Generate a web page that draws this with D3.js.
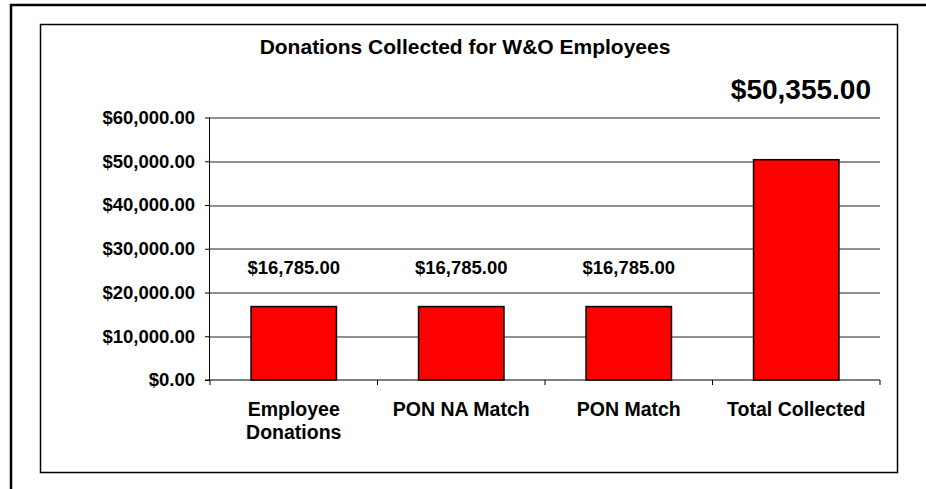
<!DOCTYPE html>
<html><head><meta charset="UTF-8"><style>
body { margin: 0; background: #fff; }
text { font-family: "Liberation Sans", Arial, sans-serif; font-weight: bold; fill: #000; }
</style>
</head>
<body>
<svg width="926" height="489"></svg>
<script src="https://cdn.jsdelivr.net/npm/d3@7"></script>
<script>

var categories = [["Employee", "Donations"], ["PON NA Match"], ["PON Match"], ["Total Collected"]];
var values = [16785, 16785, 16785, 50355];
var yTicks = [0, 10000, 20000, 30000, 40000, 50000, 60000];

var svg = d3.select("svg"),
    margin = {top: 117.5, right: 46, bottom: 109, left: 210},
    width = 926 - margin.left - margin.right,
    height = 489 - margin.top - margin.bottom;

// outer frame (top and left edge only visible)
svg.append("path")
    .attr("d", "M11,489V5H926")
    .attr("fill", "none")
    .attr("stroke", "#000")
    .attr("stroke-width", 2.5);

// chart area box
svg.append("rect")
    .attr("x", 40.5).attr("y", 24.5)
    .attr("width", 857).attr("height", 448)
    .attr("fill", "#fff")
    .attr("stroke", "#000")
    .attr("stroke-width", 1.5);

svg.append("text")
    .attr("x", 465)
    .attr("y", 54)
    .attr("text-anchor", "middle")
    .attr("font-size", 21)
    .text("Donations Collected for W&O Employees");

var money = d3.format("$,.2f");

svg.append("text")
    .attr("x", 871)
    .attr("y", 99)
    .attr("text-anchor", "end")
    .attr("font-size", 28)
    .text(money(d3.sum(values.slice(0, 3))));

var g = svg.append("g").attr("transform", "translate(" + margin.left + "," + margin.top + ")");

var x = d3.scaleBand()
    .domain(d3.range(categories.length))
    .range([0, width])
    .paddingInner(0.49)
    .paddingOuter(0.245);

var xb = d3.scaleBand()
    .domain(d3.range(categories.length))
    .range([0, width]);

var y = d3.scaleLinear()
    .domain([0, 60000])
    .range([height, 0]);

// gridlines
g.append("g")
    .selectAll("line")
    .data(yTicks.slice(1))
    .enter().append("line")
      .attr("x1", 0)
      .attr("x2", width)
      .attr("y1", function(d) { return Math.round(y(d)) + 0.5; })
      .attr("y2", function(d) { return Math.round(y(d)) + 0.5; })
      .attr("stroke", "#222");

g.append("g")
    .selectAll("rect")
    .data(values)
    .enter().append("rect")
      .attr("x", function(d, i) { return x(i); })
      .attr("y", function(d) { return y(d); })
      .attr("width", x.bandwidth())
      .attr("height", function(d) { return height - y(d); })
      .attr("fill", "#ff0000")
      .attr("stroke", "#000")
      .attr("stroke-width", 1.5);

// value labels on first three bars
g.append("g")
    .selectAll("text")
    .data(values.slice(0, 3))
    .enter().append("text")
      .attr("x", function(d, i) { return x(i) + x.bandwidth() / 2; })
      .attr("y", function(d) { return y(d) - 33; })
      .attr("text-anchor", "middle")
      .attr("font-size", 18.5)
      .text(function(d) { return money(d); });

// y axis
var yAxis = g.append("g")
    .call(d3.axisLeft(y).tickValues(yTicks).tickSize(5).tickPadding(10).tickFormat(money));
yAxis.select(".domain").attr("stroke", "#000").attr("d", "M-0.5," + height + "V0");
yAxis.selectAll("text")
    .attr("font-family", null)
    .attr("font-size", 18.5);
yAxis.selectAll(".tick line").attr("stroke", "#000");

// x axis
var xAxis = g.append("g")
    .attr("transform", "translate(0," + height + ")");
xAxis.append("line")
    .attr("x1", -5).attr("x2", width)
    .attr("stroke", "#000");
xAxis.selectAll(".tk")
    .data(d3.range(categories.length + 1))
    .enter().append("line")
      .attr("x1", function(d) { return d * xb.bandwidth(); })
      .attr("x2", function(d) { return d * xb.bandwidth(); })
      .attr("y1", 0).attr("y2", 5)
      .attr("stroke", "#000");
xAxis.selectAll(".cat")
    .data(categories)
    .enter().append("text")
      .attr("text-anchor", "middle")
      .attr("font-size", 19.5)
      .attr("transform", function(d, i) { return "translate(" + (xb(i) + xb.bandwidth() / 2) + ",36)"; })
    .selectAll("tspan")
    .data(function(d) { return d; })
    .enter().append("tspan")
      .attr("x", 0)
      .attr("dy", function(d, i) { return i ? 23 : 0; })
      .text(function(d) { return d; });

</script>
</body></html>
